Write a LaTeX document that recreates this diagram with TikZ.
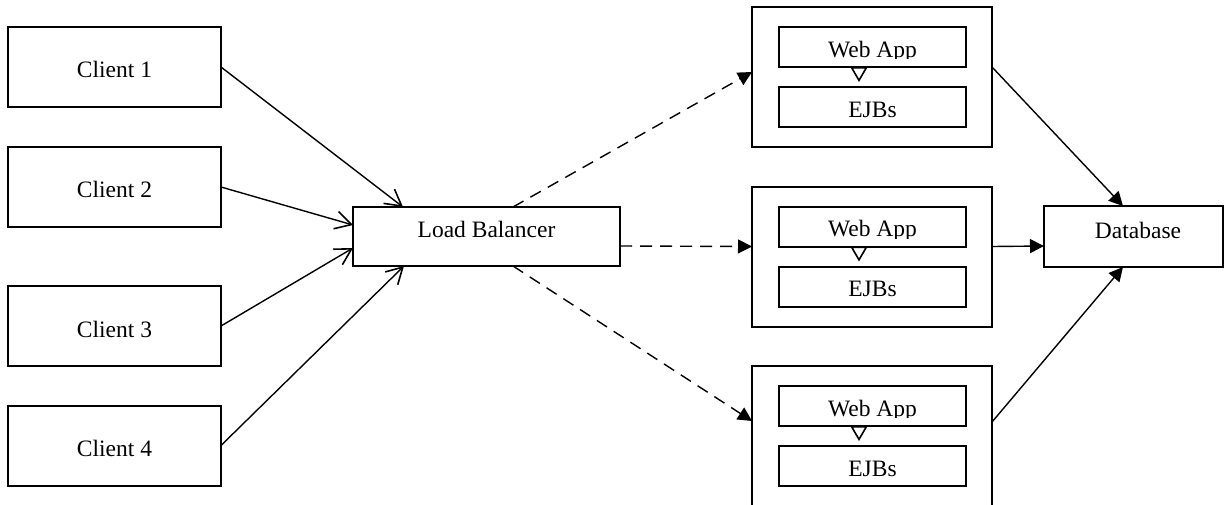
\documentclass[tikz,border=0pt]{standalone}
\usepackage{fontspec}
\setmainfont{Liberation Serif}
\usetikzlibrary{arrows.meta,calc}
\begin{document}
\begin{tikzpicture}[x=1pt,y=-1pt,
  box/.style={draw, line width=2pt, rectangle, inner sep=0pt, outer sep=0pt},
  clientbox/.style={box, minimum width=213pt, minimum height=80pt},
  serverbox/.style={box, minimum width=240pt, minimum height=140pt},
  innerbox/.style={box, minimum width=187pt, minimum height=40pt},
  lbl/.style={anchor=base, inner sep=0pt, outer sep=0pt, font=\fontsize{23.5}{28}\selectfont},
  link/.style={line width=1.4pt},
  request/.style={link, -{Straight Barb[length=16pt,width=18pt,line width=1.6pt]}},
  dispatch/.style={link, dash pattern=on 12pt off 8pt, -{Triangle[length=14pt,width=14pt]}},
  query/.style={link, -{Triangle[length=14pt,width=14pt]}},
  call/.style={link, -{Triangle[open,length=15pt,width=17pt,line width=1.6pt]}}
]
\clip (0,0) rectangle (1224,504);
\fill[white] (0,0) rectangle (1224,504);

% clients
\node[clientbox] (c1) at (114.5,67) {};
\node[clientbox] (c2) at (114.5,187) {};
\node[clientbox] (c3) at (114.5,326) {};
\node[clientbox] (c4) at (114.5,445.5) {};
\node[lbl] (t1) at (114.5,77.5) {Client 1};
\node[lbl] (t2) at (114.5,197.5) {Client 2};
\node[lbl] (t3) at (114.5,337) {Client 3};
\node[lbl] (t4) at (114.5,456) {Client 4};

% load balancer and database
\node[box, minimum width=267pt, minimum height=59pt] (lb) at (486.5,236.5) {};
\node[lbl] (tlb) at (486.5,237) {Load Balancer};
\node[box, minimum width=179pt, minimum height=61pt] (db) at (1133.5,236.5) {};
\node[lbl] (tdb) at (1138,238) {Database};

% application servers
\foreach \i/\cy in {1/77, 2/256.5, 3/436} {
  \node[serverbox] (s\i) at (872,\cy) {};
  \node[innerbox] (wa\i) at (872.5,\cy-30) {};
  \node[innerbox] (ej\i) at (872.5,\cy+30) {};
  \begin{scope}
    \clip ($(wa\i.north west)$) rectangle ($(wa\i.south east)+(0,-8.5)$);
    \node[lbl] (twa\i) at ($(wa\i.south)+(0,-10)$) {Web App};
  \end{scope}
  \node[lbl] (tej\i) at ($(ej\i.south)+(0,-10)$) {EJBs};
  \coordinate (tip\i) at ($(wa\i.south)+(-13.5,15)$);
  \draw[call] ($(wa\i.south)+(-13.5,0)$) -- (tip\i);
}

% client requests
\draw[request] (c1.east) -- ($(lb.north west)+(50,0)$);
\draw[request] (c2.east) -- ($(lb.west)+(0,-11.5)$);
\draw[request] (c3.east) -- ($(lb.west)+(0,11.5)$);
\draw[request] (c4.east) -- ($(lb.south west)+(51,0)$);

% dispatch to servers
\draw[dispatch] ($(lb.north west)+(160,0)$) -- ($(s1.west)+(0,-5)$);
\draw[dispatch] ($(lb.east)+(0,9.5)$) -- ($(s2.west)+(0,-10)$);
\draw[dispatch] ($(lb.south west)+(160,0)$) -- ($(s3.west)+(0,-15)$);

% database access
\draw[query] ($(s1.east)+(0,-10)$) -- ($(db.north)+(-10.5,0)$);
\draw[query] ($(s2.east)+(0,-10)$) -- ($(db.west)+(0,9.5)$);
\draw[query] ($(s3.east)+(0,-14)$) -- ($(db.south)+(-10.5,0)$);
\end{tikzpicture}
\end{document}
